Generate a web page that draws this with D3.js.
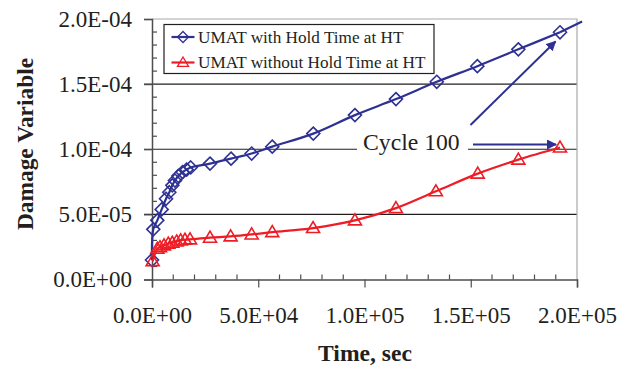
<!DOCTYPE html>
<html>
<head>
<meta charset="utf-8">
<script src="https://cdn.jsdelivr.net/npm/d3@7"></script>
<style>
  body { margin: 0; background: #fff; }
  svg text { font-family: "Liberation Serif", "Times New Roman", serif; fill: #231f20; }
</style>
</head>
<body>
<div id="container"></div>
<script>
const w = 631
const h = 369

// time in seconds, damage variable
const withHoldTime = [0, 600, 2500, 4550, 6600, 8150, 9570, 10800, 12400, 14400, 16300, 18200,
  27300, 37200, 46900, 56600, 75900, 95500, 114800, 134000, 153100, 172400, 192000]
const withHoldDamage = [1.5e-5, 3.85e-5, 4.54e-5, 5.38e-5, 6.2e-5, 6.7e-5, 7.23e-5, 7.6e-5, 7.95e-5, 8.25e-5, 8.44e-5, 8.6e-5,
  8.9e-5, 9.28e-5, 9.67e-5, 1.02e-4, 1.12e-4, 1.262e-4, 1.385e-4, 1.518e-4, 1.638e-4, 1.767e-4, 1.898e-4]
// the blue line runs on past the last marker
const withHoldTail = [192000, 202400]
const withHoldTailDamage = [1.898e-4, 1.98e-4]

const noHoldTime = [300, 2500, 3760, 5650, 7670, 9550, 11600, 13500, 15500, 17900,
  27300, 37000, 46900, 56600, 75800, 95500, 114800, 133600, 153300, 172400, 192000]
const noHoldDamage = [1.41e-5, 2.36e-5, 2.48e-5, 2.62e-5, 2.75e-5, 2.82e-5, 2.92e-5, 3.0e-5, 3.05e-5, 3.08e-5,
  3.21e-5, 3.31e-5, 3.46e-5, 3.64e-5, 3.95e-5, 4.54e-5, 5.48e-5, 6.77e-5, 8.13e-5, 9.2e-5, 1.013e-4]

const xTicks = [0, 5e4, 1e5, 1.5e5, 2e5]
const yTicks = [0, 5e-5, 1e-4, 1.5e-4, 2e-4]
const seriesNames = ['UMAT with Hold Time at HT', 'UMAT without Hold Time at HT']

const blue = '#2e3192'
const red = '#ee1c25'

const plotL = 152, plotR = 577, plotT = 19, plotB = 279.5

const scaleX = d3.scaleLinear([0, 2e5], [plotL, plotR])
const scaleY = d3.scaleLinear([0, 2e-4], [plotB, plotT])

const fmt = d => {
    const e = d === 0 ? 0 : Math.floor(Math.log10(d) + 1e-9)
    const m = d === 0 ? 0 : d / Math.pow(10, e)
    const sign = e < 0 ? '-' : '+'
    return `${m.toFixed(1)}E${sign}${String(Math.abs(e)).padStart(2, '0')}`
}

const svg = d3.select('#container')
    .append('svg')
    .attr('width', w)
    .attr('height', h)

// gridlines
svg.append('g')
    .selectAll('line')
    .data(yTicks.filter(d => d > 0 && d < 2e-4))
    .enter()
    .append('line')
    .attr('x1', plotL - 8)
    .attr('x2', plotR)
    .attr('y1', d => scaleY(d))
    .attr('y2', d => scaleY(d))
    .attr('stroke', '#231f20')
    .attr('stroke-width', 1.2)

// frame top / right
svg.append('path')
    .attr('d', `M${plotL},${plotT}H${plotR}V${plotB}`)
    .attr('fill', 'none')
    .attr('stroke', '#a7a9ac')
    .attr('stroke-width', 1.2)

// axes
const axisY = d3.axisLeft(scaleY).tickValues(yTicks).tickFormat(fmt).tickSize(8).tickPadding(12)
const gy = svg.append('g')
    .attr('transform', `translate(${plotL},0)`)
    .call(axisY)
gy.attr('font-family', null)
gy.select('.domain').attr('stroke', '#4d4d4f').attr('stroke-width', 1.5)
gy.selectAll('.tick line').attr('stroke', '#4d4d4f').attr('stroke-width', 1.2)
gy.selectAll('.tick text').style('font-size', '23px')

const yMinor = d3.range(1, 20).filter(i => i % 5 !== 0).map(i => i * 1e-5)
gy.selectAll('.minor')
    .data(yMinor)
    .enter()
    .append('line')
    .attr('class', 'minor')
    .attr('x1', 0)
    .attr('x2', 5)
    .attr('y1', d => scaleY(d))
    .attr('y2', d => scaleY(d))
    .attr('stroke', '#4d4d4f')
    .attr('stroke-width', 1.2)

const axisX = d3.axisBottom(scaleX).tickValues(xTicks).tickFormat(fmt).tickSize(8).tickPadding(19)
const gx = svg.append('g')
    .attr('transform', `translate(0,${plotB})`)
    .call(axisX)
gx.attr('font-family', null)
gx.select('.domain').attr('stroke', '#4d4d4f').attr('stroke-width', 1.5)
gx.selectAll('.tick line').attr('stroke', '#4d4d4f').attr('stroke-width', 1.2)
gx.selectAll('.tick text').style('font-size', '23px')

const xMinor = d3.range(1, 20).filter(i => i % 5 !== 0).map(i => i * 1e4)
gx.selectAll('.minor')
    .data(xMinor)
    .enter()
    .append('line')
    .attr('class', 'minor')
    .attr('x1', d => scaleX(d))
    .attr('x2', d => scaleX(d))
    .attr('y1', 0)
    .attr('y2', -5)
    .attr('stroke', '#4d4d4f')
    .attr('stroke-width', 1.2)

// axis titles
svg.append('text')
    .text('Damage Variable')
    .attr('transform', `translate(33,144) rotate(-90)`)
    .attr('text-anchor', 'middle')
    .style('font-size', '23.4px')
    .style('font-weight', 'bold')

svg.append('text')
    .text('Time, sec')
    .attr('x', 365)
    .attr('y', 361)
    .attr('text-anchor', 'middle')
    .style('font-size', '23.6px')
    .style('font-weight', 'bold')

// series
const line = d3.line()
    .x(d => scaleX(d[0]))
    .y(d => scaleY(d[1]))
    .curve(d3.curveCatmullRom.alpha(0.5))

const bluePts = d3.zip(withHoldTime, withHoldDamage)
const blueTail = d3.zip(withHoldTail, withHoldTailDamage)
const redPts = d3.zip(noHoldTime, noHoldDamage)

const diamond = 'M0,-6.5L6.5,0L0,6.5L-6.5,0Z'
const triangle = 'M0,-6.5L6.5,4.5L-6.5,4.5Z'

svg.append('path')
    .attr('d', line(bluePts))
    .attr('fill', 'none')
    .attr('stroke', blue)
    .attr('stroke-width', 2.2)
svg.append('path')
    .attr('d', line(blueTail))
    .attr('fill', 'none')
    .attr('stroke', blue)
    .attr('stroke-width', 2.2)

svg.selectAll('.dia')
    .data(bluePts)
    .enter()
    .append('path')
    .attr('class', 'dia')
    .attr('d', diamond)
    .attr('transform', d => `translate(${scaleX(d[0])},${scaleY(d[1])})`)
    .attr('fill', 'none')
    .attr('stroke', blue)
    .attr('stroke-width', 1.6)

svg.append('path')
    .attr('d', line(redPts))
    .attr('fill', 'none')
    .attr('stroke', red)
    .attr('stroke-width', 2.2)

svg.selectAll('.tri')
    .data(redPts)
    .enter()
    .append('path')
    .attr('class', 'tri')
    .attr('d', triangle)
    .attr('transform', d => `translate(${scaleX(d[0])},${scaleY(d[1])})`)
    .attr('fill', 'none')
    .attr('stroke', red)
    .attr('stroke-width', 1.6)

// legend
const legend = svg.append('g')
    .attr('id', 'legend')
legend.append('rect')
    .attr('x', 164)
    .attr('y', 24.5)
    .attr('width', 270)
    .attr('height', 49)
    .attr('fill', '#fff')
    .attr('stroke', '#231f20')
    .attr('stroke-width', 1.2)

const legendRows = [
    { name: seriesNames[0], color: blue, shape: diamond, y: 37 },
    { name: seriesNames[1], color: red, shape: triangle, y: 62.5 }
]
legendRows.forEach(r => {
    legend.append('line')
        .attr('x1', 171.5)
        .attr('x2', 194.5)
        .attr('y1', r.y)
        .attr('y2', r.y)
        .attr('stroke', r.color)
        .attr('stroke-width', 2.2)
    legend.append('path')
        .attr('d', r.shape)
        .attr('transform', `translate(183,${r.y}) scale(0.85)`)
        .attr('fill', 'none')
        .attr('stroke', r.color)
        .attr('stroke-width', 1.5)
    legend.append('text')
        .text(r.name)
        .attr('x', 198)
        .attr('y', r.y + 5.8)
        .style('font-size', '17.2px')
})

// annotation
const note = svg.append('g')
note.append('rect')
    .attr('x', 357)
    .attr('y', 134)
    .attr('width', 111)
    .attr('height', 24)
    .attr('fill', '#fff')
note.append('text')
    .text('Cycle 100')
    .attr('x', 363)
    .attr('y', 149.5)
    .style('font-size', '23.7px')

svg.append('defs')
    .append('marker')
    .attr('id', 'arrow')
    .attr('viewBox', '0 0 10 10')
    .attr('refX', 9)
    .attr('refY', 5)
    .attr('markerWidth', 5)
    .attr('markerHeight', 5)
    .attr('markerUnits', 'strokeWidth')
    .attr('orient', 'auto')
    .append('path')
    .attr('d', 'M0,0L10,5L0,10Z')
    .attr('fill', blue)

svg.append('line')
    .attr('x1', 473)
    .attr('y1', 144.5)
    .attr('x2', 556)
    .attr('y2', 144.5)
    .attr('stroke', blue)
    .attr('stroke-width', 2)
    .attr('marker-end', 'url(#arrow)')

svg.append('line')
    .attr('x1', 470.5)
    .attr('y1', 125)
    .attr('x2', 555.5)
    .attr('y2', 41.5)
    .attr('stroke', blue)
    .attr('stroke-width', 2)
    .attr('marker-end', 'url(#arrow)')
</script>
</body>
</html>
